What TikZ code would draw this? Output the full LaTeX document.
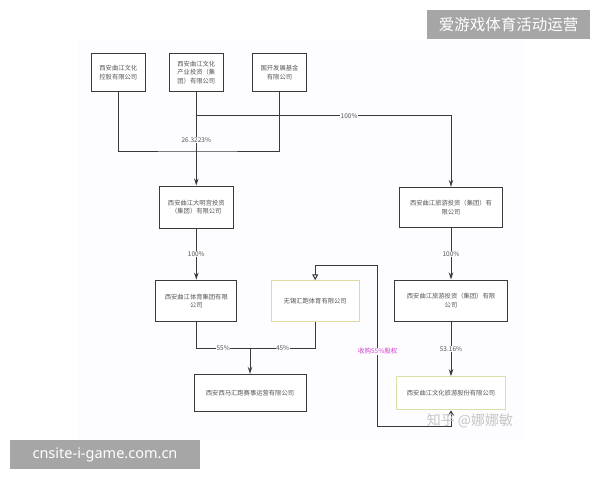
\documentclass[tikz,border=0pt]{standalone}
\usepackage{fontspec}
\usepackage{xcolor}
\usetikzlibrary{arrows.meta}
\newfontfamily\cjk{Noto Sans CJK SC}
\newfontfamily\latinsans{Noto Sans}
\definecolor{panel}{HTML}{FDFCFE}
\definecolor{boxline}{HTML}{3A3A3A}
\definecolor{boxtext}{HTML}{555555}
\definecolor{khaki}{HTML}{E2D9A2}
\definecolor{lime}{HTML}{D9E2A6}
\definecolor{buy}{HTML}{D040D0}
\definecolor{mark}{HTML}{A6A6A6}

\begin{document}
\begin{tikzpicture}[x=1pt, y=-1pt,
    firm/.style={draw=boxline, line width=1pt, fill=white, align=center,
                 font=\cjk\fontsize{6.3}{8.5}\selectfont, text=boxtext, inner sep=1pt},
    arrow/.style={draw=boxline, line width=1pt, -{Stealth[length=7pt,width=4.5pt]}},
    line/.style={draw=boxline, line width=1pt},
    lbl/.style={font=\cjk\fontsize{6.5}{8}\selectfont, text=boxtext, fill=panel, inner sep=0.5pt}
  ]
    \useasboundingbox (0,0) rectangle (600,480);
    \fill[panel] (78,40) rectangle (524,440);

    % top row
    \node[firm, minimum width=54pt, minimum height=38.5pt] (ctrl) at (118.3,72.5) {西安曲江文化\\控股有限公司};
    \node[firm, minimum width=54pt, minimum height=38.5pt] (cyjt) at (196.3,72.5) {西安曲江文化\\产业投资（集\\团）有限公司};
    \node[firm, minimum width=54.4pt, minimum height=38.5pt] (gkjj) at (279.5,72.5) {国开发展基金\\有限公司};

    % middle rows
    \node[firm, minimum width=74pt, minimum height=42pt] (dmg) at (196.3,207) {西安曲江大明宫投资\\（集团）有限公司};
    \node[firm, minimum width=103.4pt, minimum height=40.4pt] (lytzA) at (451,207.5) {西安曲江旅游投资（集团）有\\限公司};
    \node[firm, minimum width=80.7pt, minimum height=41.7pt] (tyjt) at (196.3,301) {西安曲江体育集团有限\\公司};
    \node[firm, draw=khaki, minimum width=88pt, minimum height=40.5pt] (wxhp) at (315.2,301) {无锡汇跑体育有限公司};
    \node[firm, minimum width=113pt, minimum height=41pt] (lytzB) at (451,300.5) {西安曲江旅游投资（集团）有限\\公司};

    % bottom row
    \node[firm, minimum width=112pt, minimum height=37.4pt] (xmhp) at (250,393) {西安西马汇跑赛事运营有限公司};
    \node[firm, draw=lime, minimum width=109pt, minimum height=33.3pt] (qjwl) at (451,393.3) {西安曲江文化旅游股份有限公司};

    % joints
    \coordinate (j1) at (196.3,151);
    \coordinate (j2) at (196.3,115.7);
    \coordinate (j3) at (250,348.3);
    \coordinate (loopA) at (377.7,426.7);
    \coordinate (loopB) at (315.2,265);

    \draw[line] (ctrl.south) |- (j1) -| (gkjj.south);
    \draw[arrow] (cyjt.south) -- node[lbl, pos=0.51] {26.3223\%} (dmg.north);
    \draw[arrow] (j2) -| node[lbl, pos=0.3] {100\%} (lytzA.north);
    \draw[arrow] (dmg.south) -- node[lbl] {100\%} (tyjt.north);
    \draw[arrow] (lytzA.south) -- node[lbl] {100\%} (lytzB.north);
    \draw[line] (tyjt.south) |- node[lbl, pos=0.75] {55\%} (j3);
    \draw[line] (wxhp.south) |- node[lbl, pos=0.75] {45\%} (j3);
    \draw[arrow] (j3) -- (xmhp.north);
    \draw[arrow] (lytzB.south) -- node[lbl] {53.16\%} (qjwl.north);
    \draw[line, {Straight Barb[length=4pt,width=5pt]}-{Triangle[open,length=6pt,width=6pt]}]
      (qjwl.south) |- (loopA) |- node[lbl, text=buy, pos=0.234] {收购55\%股权} (loopB) -- (wxhp.north);

    % watermarks
    \node[font=\cjk\fontsize{14}{16}\selectfont, text=black!22] (zhihu) at (470,421) {知乎 @娜娜敏};
    \node[fill=mark, text=white, font=\cjk\fontsize{15.5}{18}\selectfont, minimum width=163pt, minimum height=29pt, inner sep=0pt] (tagA) at (508.5,24.5) {爱游戏体育活动运营};
    \node[fill=mark, text=white, font=\latinsans\fontsize{14.5}{17}\selectfont, minimum width=190pt, minimum height=29pt, inner sep=0pt] (tagB) at (105,454.5) {cnsite-i-game.com.cn};
  \end{tikzpicture}
\end{document}
